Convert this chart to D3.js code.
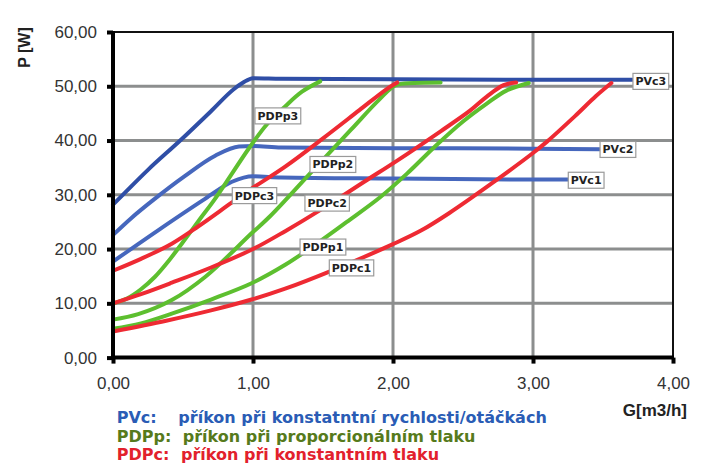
<!DOCTYPE html>
<html><head><meta charset="utf-8">
<script src="https://cdn.jsdelivr.net/npm/d3@7"></script>
<style>body{margin:0;background:#fff}</style>
</head><body>
<svg id="c" width="705" height="465" xmlns="http://www.w3.org/2000/svg"></svg>
<script>
// ---- data ----
const xTicks = [0, 1, 2, 3, 4];
const yTicks = [0, 10, 20, 30, 40, 50, 60];

const pvc3G = [0, 0.07, 0.25, 0.48, 0.7, 0.86, 0.93, 1.0, 1.2, 2.0, 3.0, 3.71];
const pvc3P = [28.2, 30.0, 34.6, 40.0, 45.4, 49.4, 50.7, 51.5, 51.4, 51.3, 51.2, 51.2];
const pvc2G = [0, 0.13, 0.3, 0.51, 0.73, 0.9, 1.0, 1.2, 2.0, 3.0, 3.48];
const pvc2P = [22.6, 25.7, 29.3, 33.4, 37.2, 38.9, 39.0, 38.7, 38.6, 38.5, 38.4];
const pvc1G = [0, 0.33, 0.66, 0.85, 1.0, 1.2, 2.0, 3.0, 3.25];
const pvc1P = [17.7, 23.6, 29.3, 32.4, 33.4, 33.2, 33.0, 32.8, 32.8];

const pdpp3G = [0, 0.1, 0.2, 0.3, 0.4, 0.5, 0.62, 0.73, 0.98, 1.1, 1.23, 1.35, 1.48];
const pdpp3P = [10.0, 10.9, 12.6, 14.9, 17.9, 21.3, 25.5, 29.3, 38.9, 43.0, 46.3, 49.0, 50.9];
const pdpp2G = [0, 0.18, 0.42, 0.66, 0.99, 1.12, 1.41, 1.7, 1.9, 2.02, 2.15, 2.34];
const pdpp2P = [7.0, 8.0, 10.6, 14.9, 22.9, 26.0, 34.0, 42.0, 47.5, 50.2, 50.6, 50.7];
const pdpp1G = [0, 0.2, 0.42, 0.7, 0.99, 1.23, 1.45, 1.67, 1.91, 2.1, 2.3, 2.5, 2.67, 2.81, 2.97];
const pdpp1P = [5.3, 6.3, 8.1, 10.7, 13.7, 17.1, 20.9, 25.0, 29.6, 33.9, 38.9, 43.5, 46.8, 49.2, 50.6];

const pdpc3G = [0, 0.2, 0.42, 0.61, 0.85, 1.0, 1.23, 1.5, 1.76, 1.95, 2.03];
const pdpc3P = [16.0, 18.2, 21.0, 24.2, 28.6, 31.3, 35.2, 40.4, 45.6, 49.4, 50.7];
const pdpc2G = [0, 0.2, 0.42, 0.7, 1.0, 1.23, 1.5, 1.8, 2.03, 2.34, 2.55, 2.67, 2.79, 2.88];
const pdpc2P = [10.0, 11.7, 13.8, 16.6, 20.0, 23.3, 27.5, 32.5, 36.3, 41.7, 45.5, 48.1, 50.2, 50.7];
const pdpc1G = [0, 0.38, 0.7, 0.99, 1.23, 1.55, 2.0, 2.2, 2.4, 2.7, 3.0, 3.1, 3.3, 3.45, 3.56];
const pdpc1P = [4.8, 6.8, 8.7, 10.7, 12.7, 15.9, 20.9, 23.4, 26.6, 32.0, 37.7, 39.8, 44.5, 48.2, 50.6];

const seriesNames = ["PVc3", "PVc2", "PVc1", "PDPp3", "PDPp2", "PDPp1", "PDPc3", "PDPc2", "PDPc1"];
const seriesG = [pvc3G, pvc2G, pvc1G, pdpp3G, pdpp2G, pdpp1G, pdpc3G, pdpc2G, pdpc1G];
const seriesP = [pvc3P, pvc2P, pvc1P, pdpp3P, pdpp2P, pdpp1P, pdpc3P, pdpc2P, pdpc1P];
const seriesColor = ["#2f4ea6", "#4667bd", "#4667bd", "#5dbf2f", "#5dbf2f", "#5dbf2f", "#ee2a33", "#ee2a33", "#ee2a33"];

// label anchor (data coordinates): left edge / vertical center of label box
const labelG = [3.714, 3.479, 3.252, 1.014, 1.407, 1.336, 0.852, 1.371, 1.545];
const labelP = [50.9, 38.36, 32.68, 44.54, 35.59, 20.37, 29.85, 28.47, 16.53];

const legendKeys = ["PVc:", "PDPp:", "PDPc:"];
const legendTexts = ["příkon při konstatntní rychlosti/otáčkách", "příkon při proporcionálním tlaku", "příkon při konstantním tlaku"];
const legendColors = ["#2a5cb5", "#567a1c", "#e2212c"];

// ---- chart ----
const svg = d3.select("#c");
const x = d3.scaleLinear().domain([0, 4]).range([113, 673]);
const y = d3.scaleLinear().domain([0, 60]).range([357.6, 32]);
const fmt = d => d3.format(".2f")(d).replace(".", ",");

// grid
const grid = svg.append("g");
grid.selectAll(".vg").data(xTicks.slice(1, -1)).join("line")
  .attr("x1", d => x(d)).attr("x2", d => x(d)).attr("y1", y(60)).attr("y2", y(0))
  .attr("stroke", "#8c8e8e").attr("stroke-width", 3);
grid.selectAll(".hg").data(yTicks.slice(1, -1)).join("line")
  .attr("x1", x(0)).attr("x2", x(4)).attr("y1", d => y(d)).attr("y2", d => y(d))
  .attr("stroke", "#8c8e8e").attr("stroke-width", 3);

// borders top/right
svg.append("line").attr("x1", x(0)).attr("x2", x(4)).attr("y1", y(60)).attr("y2", y(60))
  .attr("stroke", "#111").attr("stroke-width", 2);
svg.append("line").attr("x1", x(4)).attr("x2", x(4)).attr("y1", y(60) - 1).attr("y2", y(0))
  .attr("stroke", "#111").attr("stroke-width", 2);

// curves
const lineFlat = d3.line().x(d => x(d[0])).y(d => y(d[1])).curve(d3.curveMonotoneX);
const lineSmooth = d3.line().x(d => x(d[0])).y(d => y(d[1])).curve(d3.curveCatmullRom.alpha(0.5));
seriesNames.forEach((n, i) => {
  const pts = seriesG[i].map((g, j) => [g, seriesP[i][j]]);
  const gen = i < 3 ? lineFlat : lineSmooth;
  svg.append("path").attr("d", gen(pts)).attr("fill", "none")
    .attr("stroke", seriesColor[i]).attr("stroke-width", 4)
    .attr("stroke-linecap", "round").attr("stroke-linejoin", "round");
});

// axes
const yAxis = svg.append("g").attr("transform", `translate(${x(0)},0)`)
  .call(d3.axisLeft(y).tickValues(yTicks).tickFormat(fmt).tickSize(6).tickPadding(10));
const xAxis = svg.append("g").attr("transform", `translate(0,${y(0)})`)
  .call(d3.axisBottom(x).tickValues(xTicks).tickFormat(fmt).tickSize(6).tickPadding(10));
[yAxis, xAxis].forEach(a => {
  a.select(".domain").attr("stroke", "#000").attr("stroke-width", 4);
  a.selectAll(".tick line").attr("stroke", "#000").attr("stroke-width", 4);
  a.selectAll(".tick text").attr("fill", "#333").style("font-family", "'Liberation Sans', Arial, sans-serif").style("font-size", "17px");
});
yAxis.select(".domain").attr("d", `M0,${y(60) - 1}V${y(0) + 2}`);
xAxis.select(".domain").attr("d", `M${x(0) - 2},0H${x(4) + 1}`);
xAxis.selectAll(".tick text").attr("dy", "0.9em");

// axis titles
svg.append("text").attr("transform", "translate(30,47.5) rotate(-90)")
  .attr("text-anchor", "middle").attr("fill", "#222")
  .style("font-family", "'Liberation Sans', Arial, sans-serif").style("font-weight", "bold").style("font-size", "16px")
  .text("P [W]");
svg.append("text").attr("x", 687).attr("y", 416).attr("text-anchor", "end").attr("fill", "#222")
  .style("font-family", "'Liberation Sans', Arial, sans-serif").style("font-weight", "bold").style("font-size", "17px")
  .text("G[m3/h]");

// series labels
seriesNames.forEach((n, i) => {
  const g = svg.append("g").attr("transform", `translate(${x(labelG[i])},${y(labelP[i])})`);
  const rect = g.append("rect");
  const t = g.append("text").attr("x", 2.5).attr("y", 0).attr("dy", "0.36em").attr("fill", "#222")
    .style("font-family", "'DejaVu Sans', sans-serif").style("font-weight", "bold").style("font-size", "11px")
    .text(n);
  const w = t.node().getComputedTextLength();
  rect.attr("x", 0).attr("y", -8).attr("width", w + 5).attr("height", 16)
    .attr("fill", "#fff").attr("stroke", "#9a9a9a").attr("stroke-width", 1.2);
});

// legend
const legY = [422.5, 441.5, 460];
const legTx = [178.3, 182.7, 181];
legendKeys.forEach((k, i) => {
  const t = svg.append("text").attr("y", legY[i]).attr("fill", legendColors[i])
    .style("font-family", "'DejaVu Sans', sans-serif").style("font-weight", "bold").style("font-size", "16px");
  t.append("tspan").attr("x", 116.7).text(k);
  t.append("tspan").attr("x", legTx[i]).text(legendTexts[i]);
});
</script>
</body></html>
